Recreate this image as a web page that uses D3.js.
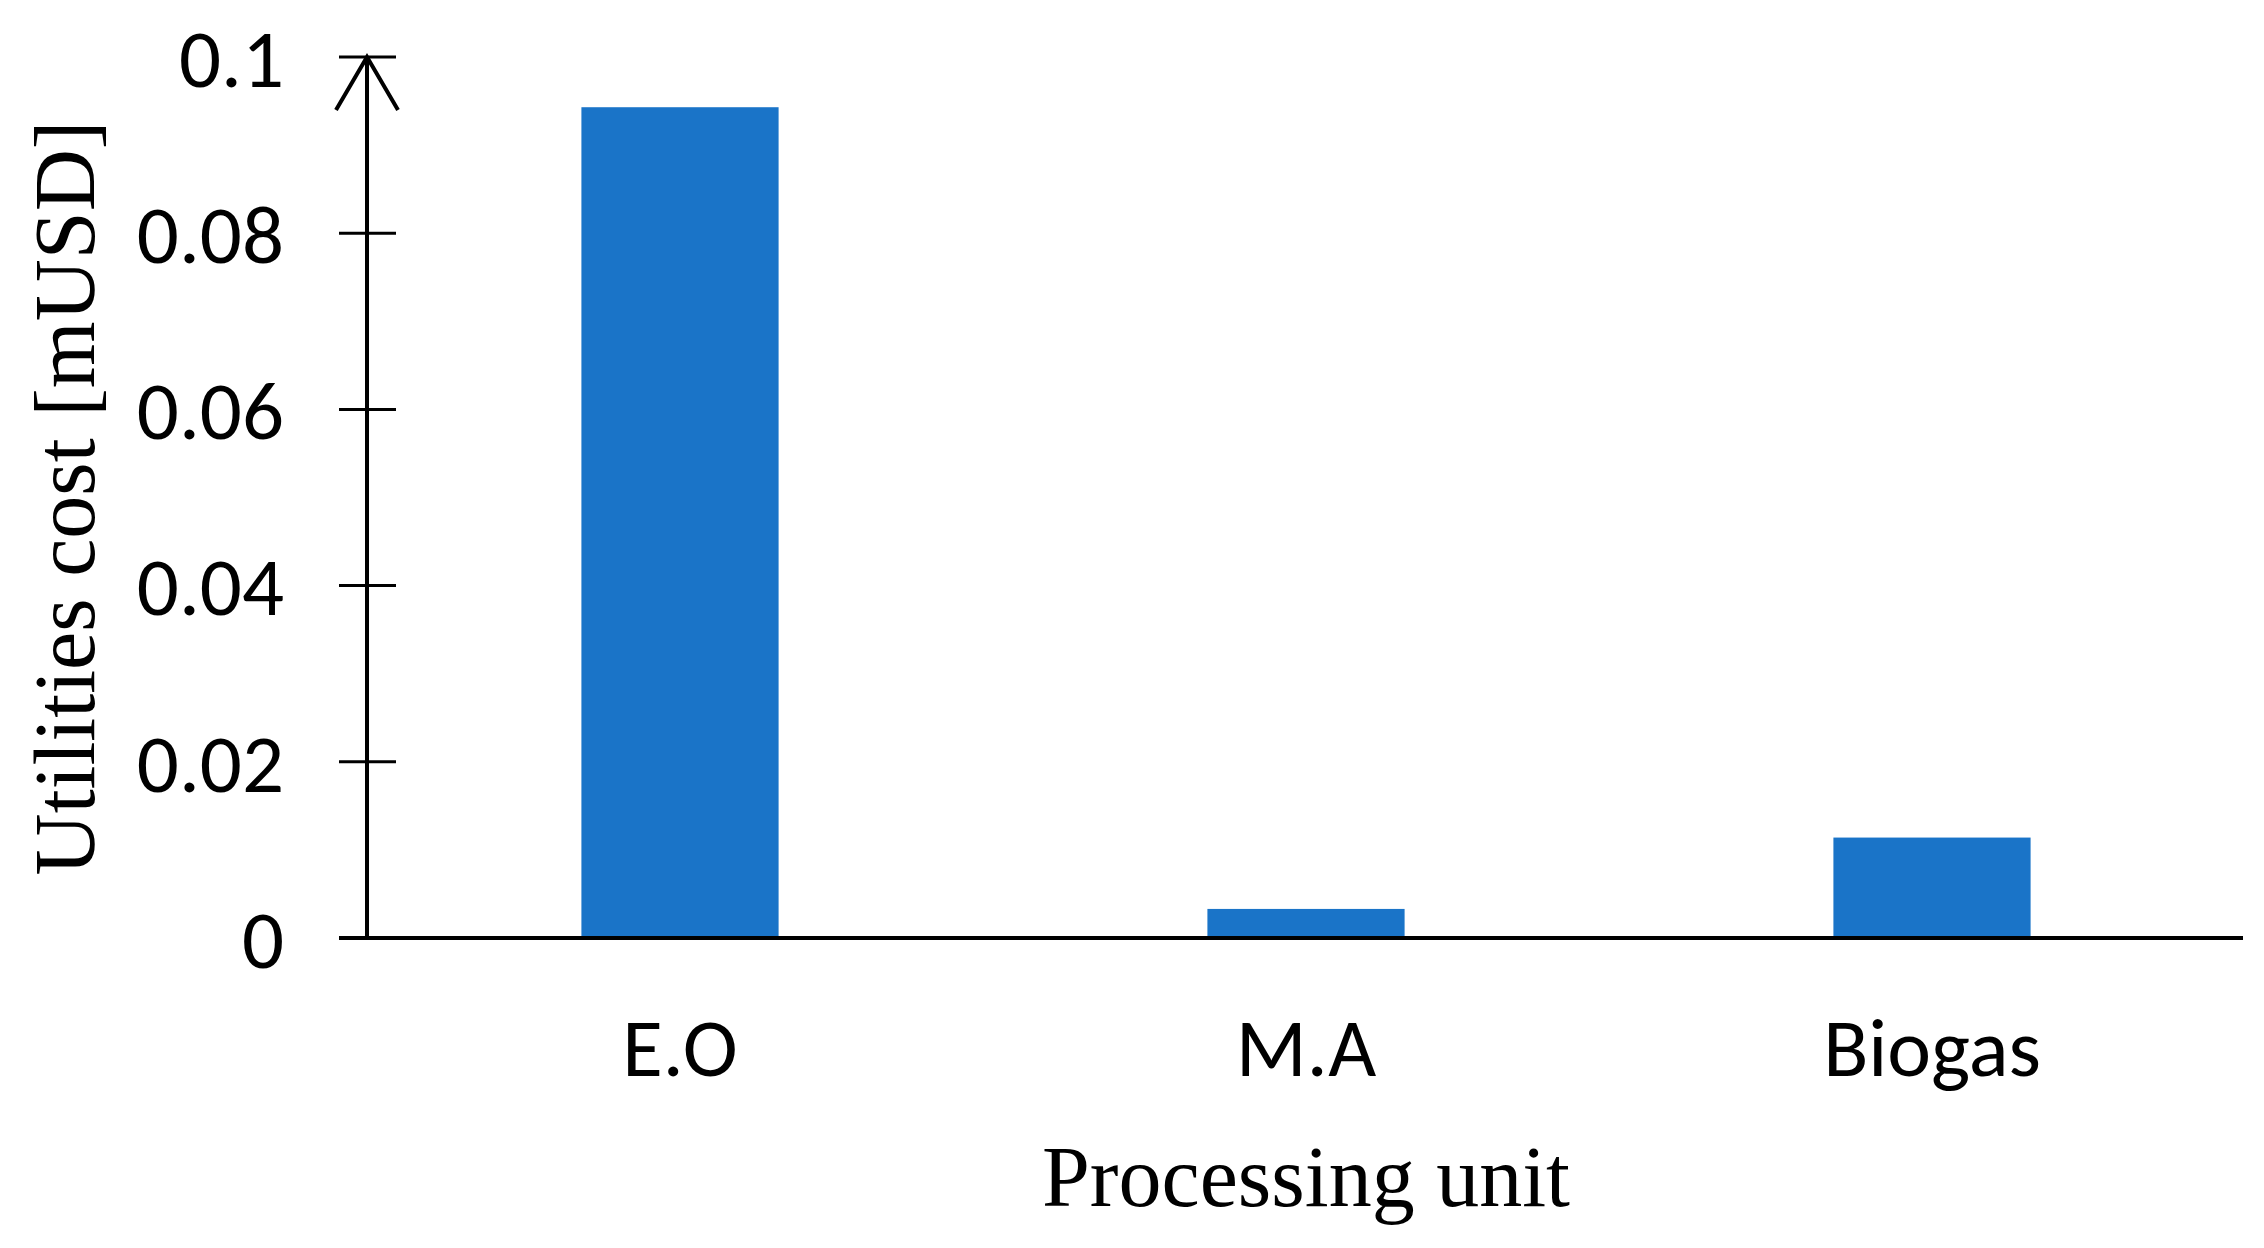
<!DOCTYPE html>
<html lang="en">
<head>
    <meta charset="UTF-8">
    <title>Utilities cost by processing unit</title>
    <style>
        body {
            margin: 0;
            padding: 0;
            background: #fff;
        }
        svg {
            display: block;
        }
        .tick-label {
            font-family: Carlito, Lato, "Open Sans", sans-serif;
            font-size: 83px;
            fill: #000;
        }
        .axis-title {
            font-family: "Liberation Serif", "Times New Roman", serif;
            font-size: 86px;
            fill: #000;
        }
    </style>
</head>
<body>
    <div id="chart"></div>

    <script src="https://d3js.org/d3.v7.min.js"></script>
    <script>
        // data
        const units = ["E.O", "M.A", "Biogas"];
        const costs = [0.0943, 0.0033, 0.0114];
        const yTicks = [0, 0.02, 0.04, 0.06, 0.08, 0.1];

        const width = 2264, height = 1248;
        const axisX = 367, baseY = 938, topY = 57, rightX = 2245;

        const svg = d3.select("#chart").append("svg")
            .attr("width", width)
            .attr("height", height);

        const x = d3.scaleBand()
            .domain(units)
            .range([axisX, rightX])
            .paddingInner(0.685)
            .paddingOuter(0.3425);

        const y = d3.scaleLinear()
            .domain([0, 0.1])
            .range([baseY, topY]);

        // bars
        svg.selectAll("rect.bar")
            .data(units)
            .enter().append("rect")
            .attr("class", "bar")
            .attr("x", d => x(d))
            .attr("width", x.bandwidth())
            .attr("y", (d, i) => y(costs[i]))
            .attr("height", (d, i) => y(0) - y(costs[i]))
            .attr("fill", "#1a74c8");

        // y axis: ticks cross the line on both sides
        svg.selectAll("line.ytick")
            .data(yTicks.filter(t => t > 0))
            .enter().append("line")
            .attr("x1", axisX - 28)
            .attr("x2", axisX + 29)
            .attr("y1", d => y(d))
            .attr("y2", d => y(d))
            .attr("stroke", "#000")
            .attr("stroke-width", 3);

        svg.selectAll("text.ytick")
            .data(yTicks)
            .enter().append("text")
            .attr("class", "tick-label")
            .attr("x", axisX - 83)
            .attr("y", d => y(d))
            .attr("dy", "0.36em")
            .attr("text-anchor", "end")
            .text(d => d === 0 ? "0" : d3.format("")(+d.toFixed(2)));

        svg.append("line")
            .attr("x1", axisX).attr("x2", axisX)
            .attr("y1", baseY).attr("y2", topY)
            .attr("stroke", "#000")
            .attr("stroke-width", 4);

        // open arrow head on top of the y axis
        svg.append("path")
            .attr("d", d3.line()([[axisX - 31, topY + 53], [axisX, topY], [axisX + 31, topY + 53]]))
            .attr("fill", "none")
            .attr("stroke", "#000")
            .attr("stroke-width", 4);

        // x axis baseline
        svg.append("line")
            .attr("x1", axisX - 28).attr("x2", 2243)
            .attr("y1", baseY).attr("y2", baseY)
            .attr("stroke", "#000")
            .attr("stroke-width", 4);

        svg.selectAll("text.xtick")
            .data(units)
            .enter().append("text")
            .attr("class", "tick-label")
            .attr("x", d => x(d) + x.bandwidth() / 2)
            .attr("y", 1076)
            .attr("text-anchor", "middle")
            .text(d => d);

        // axis titles
        svg.append("text")
            .attr("class", "axis-title")
            .attr("x", (axisX + rightX) / 2)
            .attr("y", 1206)
            .attr("text-anchor", "middle")
            .text("Processing unit");

        svg.append("text")
            .attr("class", "axis-title")
            .attr("transform", "translate(94,498) rotate(-90)")
            .attr("text-anchor", "middle")
            .text("Utilities cost [mUSD]");
    </script>
</body>
</html>
